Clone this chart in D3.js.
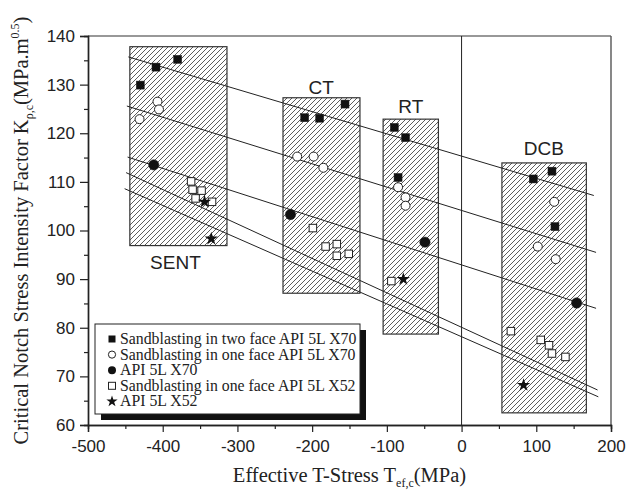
<!DOCTYPE html>
<html>
<head>
<meta charset="utf-8">
<script src="https://d3js.org/d3.v7.min.js"></script>
<style>
  body { margin: 0; background: #fff; }
  svg { display: block; }
  .tick text { font-family: "Liberation Sans", Arial, sans-serif; font-size: 17px; fill: #222; }
</style>
</head>
<body>
<script>
// ---- data ----
var xTicks = [-500, -400, -300, -200, -100, 0, 100, 200];
var yTicks = [60, 70, 80, 90, 100, 110, 120, 130, 140];

// test specimen zones: name, xmin, xmax, ymin, ymax
var boxNames = ["SENT", "CT", "RT", "DCB"];
var boxX0 = [-444, -239, -105, 54];
var boxX1 = [-314, -136, -31, 167];
var boxY0 = [96.9, 87.1, 78.7, 62.5];
var boxY1 = [137.8, 127.3, 122.9, 113.9];
// label anchor (centre x, baseline y) in data units
var boxLabelX = [-383, -188, -68, 110];
var boxLabelY = [92.0, 128.1, 124.1, 115.6];

var sandTwoX70 = [[-430, 129.9], [-409, 133.6], [-380, 135.2],
                  [-210, 123.2], [-190, 123.1], [-156, 126.0],
                  [-90, 121.2], [-75, 119.1], [-85, 110.9],
                  [96, 110.6], [121, 112.2], [125, 100.8]];
var sandOneX70 = [[-431, 122.9], [-407, 126.5], [-405, 124.9],
                  [-220, 115.2], [-198, 115.2], [-185, 112.9],
                  [-85, 108.9], [-75, 106.8], [-75, 105.1],
                  [124, 105.9], [102, 96.7], [126, 94.1]];
var x70 = [[-412, 113.5], [-229, 103.3], [-49, 97.6], [154, 85.1]];
var sandOneX52 = [[-362, 110.1], [-360, 108.4], [-348, 108.2], [-356, 106.6], [-334, 105.9],
                  [-199, 100.5], [-182, 96.7], [-167, 97.2], [-167, 94.8], [-151, 95.2],
                  [-94, 89.6],
                  [66, 79.3], [106, 77.5], [117, 76.4], [121, 74.7], [139, 74.0]];
var x52 = [[-344, 105.9], [-335, 98.3], [-78, 90.0], [83, 68.2]];

// fitted lines: x0, y0, x1, y1
var fitLines = [[-446, 135.7, 177, 107.2],
                [-448, 125.6, 180, 95.5],
                [-447, 115.1, 180, 84.0],
                [-449, 111.9, 182, 67.2],
                [-451, 108.6, 183, 65.8]];

var legendLabels = ["Sandblasting in two face API 5L X70",
                    "Sandblasting in one face API 5L X70",
                    "API 5L X70",
                    "Sandblasting in one face API 5L X52",
                    "API 5L X52"];

// ---- layout ----
var W = 628, H = 494;
var mLeft = 88, mRight = 611, mTop = 36, mBottom = 425;

var svg = d3.select("body").append("svg")
  .attr("width", W).attr("height", H);

var x = d3.scaleLinear().domain([-500, 200]).range([mLeft, mRight]);
var y = d3.scaleLinear().domain([60, 140]).range([mBottom, mTop]);

// hatch pattern
var defs = svg.append("defs");
var pat = defs.append("pattern")
  .attr("id", "hatch")
  .attr("patternUnits", "userSpaceOnUse")
  .attr("width", 5).attr("height", 5);
pat.append("path")
  .attr("d", "M-1,1 l2,-2 M0,5 l5,-5 M4,6 l2,-2")
  .attr("stroke", "#333").attr("stroke-width", 0.8);

// frame (top + right)
svg.append("line").attr("x1", mLeft).attr("x2", mRight).attr("y1", mTop).attr("y2", mTop)
  .attr("stroke", "#333").attr("stroke-width", 1.2);
svg.append("line").attr("x1", mRight).attr("x2", mRight).attr("y1", mTop).attr("y2", mBottom)
  .attr("stroke", "#555").attr("stroke-width", 1.4);

// zero line
svg.append("line")
  .attr("x1", x(0)).attr("x2", x(0)).attr("y1", mTop).attr("y2", mBottom)
  .attr("stroke", "#222").attr("stroke-width", 1);

// boxes
var boxes = boxNames.map(function (n, i) {
  return {name: n, x0: boxX0[i], x1: boxX1[i], y0: boxY0[i], y1: boxY1[i], lx: boxLabelX[i], ly: boxLabelY[i]};
});
svg.append("g").selectAll("rect").data(boxes).enter().append("rect")
  .attr("x", function (d) { return x(d.x0); })
  .attr("y", function (d) { return y(d.y1); })
  .attr("width", function (d) { return x(d.x1) - x(d.x0); })
  .attr("height", function (d) { return y(d.y0) - y(d.y1); })
  .attr("fill", "url(#hatch)")
  .attr("stroke", "#333").attr("stroke-width", 1.2);

svg.append("g").selectAll("text").data(boxes).enter().append("text")
  .attr("x", function (d) { return x(d.lx); })
  .attr("y", function (d) { return y(d.ly); })
  .attr("text-anchor", "middle")
  .style("font-family", "Liberation Sans, Arial, sans-serif")
  .style("font-size", "19px")
  .attr("fill", "#222")
  .text(function (d) { return d.name; });

// fit lines
svg.append("g").selectAll("line").data(fitLines).enter().append("line")
  .attr("x1", function (d) { return x(d[0]); })
  .attr("y1", function (d) { return y(d[1]); })
  .attr("x2", function (d) { return x(d[2]); })
  .attr("y2", function (d) { return y(d[3]); })
  .attr("stroke", "#222").attr("stroke-width", 1);

// markers
function drawSquares(data, size, filled) {
  svg.append("g").selectAll("rect").data(data).enter().append("rect")
    .attr("x", function (d) { return x(d[0]) - size / 2; })
    .attr("y", function (d) { return y(d[1]) - size / 2; })
    .attr("width", size).attr("height", size)
    .attr("fill", filled ? "#111" : "#fff")
    .attr("stroke", "#222").attr("stroke-width", filled ? 0.5 : 1);
}
function drawCircles(data, r, filled) {
  svg.append("g").selectAll("circle").data(data).enter().append("circle")
    .attr("cx", function (d) { return x(d[0]); })
    .attr("cy", function (d) { return y(d[1]); })
    .attr("r", r)
    .attr("fill", filled ? "#111" : "#fff")
    .attr("stroke", "#222").attr("stroke-width", filled ? 0.5 : 1);
}
drawSquares(sandTwoX70, 8, true);
drawCircles(sandOneX70, 4.5, false);
drawCircles(x70, 5.2, true);
drawSquares(sandOneX52, 7.5, false);
var star = d3.symbol().type(d3.symbolStar).size(55);
svg.append("g").selectAll("path").data(x52).enter().append("path")
  .attr("d", star)
  .attr("transform", function (d) { return "translate(" + x(d[0]) + "," + y(d[1]) + ")"; })
  .attr("fill", "#111");

// axes
var fmt = function (d) { return String(d); };
var xAxis = d3.axisBottom(x).tickValues(xTicks).tickSize(7).tickPadding(8).tickFormat(fmt);
var xMinor = d3.axisBottom(x).tickValues(d3.range(-450, 200, 100)).tickSize(4).tickFormat("");
var yAxis = d3.axisLeft(y).tickValues(yTicks).tickSize(8).tickPadding(5).tickFormat(fmt);
var yMinor = d3.axisLeft(y).tickValues(d3.range(65, 140, 10)).tickSize(4).tickFormat("");

[xAxis, xMinor].forEach(function (a) {
  var g = svg.append("g").attr("transform", "translate(0," + mBottom + ")").call(a);
  g.select(".domain").attr("stroke", "#222").attr("stroke-width", 1.4);
  g.selectAll(".tick line").attr("stroke", "#222").attr("stroke-width", 1.2);
});
[yAxis, yMinor].forEach(function (a) {
  var g = svg.append("g").attr("transform", "translate(" + mLeft + ",0)").call(a);
  g.select(".domain").attr("stroke", "#222").attr("stroke-width", 1.4);
  g.selectAll(".tick line").attr("stroke", "#222").attr("stroke-width", 1.2);
});

// axis titles
var serif = "Liberation Serif, Times New Roman, serif";
var xt = svg.append("text")
  .attr("x", (mLeft + mRight) / 2).attr("y", 482)
  .attr("text-anchor", "middle")
  .style("font-family", serif).style("font-size", "20.5px").attr("fill", "#222");
xt.append("tspan").text("Effective T-Stress T");
xt.append("tspan").attr("dy", 5).style("font-size", "12px").text("ef,c");
xt.append("tspan").attr("dy", -5).text("(MPa)");

var yt = svg.append("text")
  .attr("transform", "translate(28," + ((mTop + mBottom) / 2) + ") rotate(-90)")
  .attr("text-anchor", "middle")
  .style("font-family", serif).style("font-size", "20.5px").attr("fill", "#222");
yt.append("tspan").text("Critical Notch Stress Intensity Factor K");
yt.append("tspan").attr("dy", 5).style("font-size", "12px").text("ρ,c");
yt.append("tspan").attr("dy", -5).text("(MPa.m");
yt.append("tspan").attr("dy", -9).style("font-size", "12px").text("0.5");
yt.append("tspan").attr("dy", 9).text(")");

// legend
var lx = 95, ly = 324, lw = 265, lh = 90;
svg.append("rect").attr("x", lx + 6).attr("y", ly + 6).attr("width", lw).attr("height", lh).attr("fill", "#111");
svg.append("rect").attr("x", lx).attr("y", ly).attr("width", lw).attr("height", lh)
  .attr("fill", "#fff").attr("stroke", "#222").attr("stroke-width", 1);

var lg = svg.append("g");
legendLabels.forEach(function (t, i) {
  var cy = ly + 15 + i * 15.6;
  var cx = lx + 17;
  if (i === 0) lg.append("rect").attr("x", cx - 3.5).attr("y", cy - 3.5).attr("width", 7).attr("height", 7).attr("fill", "#111");
  if (i === 1) lg.append("circle").attr("cx", cx).attr("cy", cy).attr("r", 3.6).attr("fill", "#fff").attr("stroke", "#222");
  if (i === 2) lg.append("circle").attr("cx", cx).attr("cy", cy).attr("r", 4).attr("fill", "#111");
  if (i === 3) lg.append("rect").attr("x", cx - 3.5).attr("y", cy - 3.5).attr("width", 7).attr("height", 7).attr("fill", "#fff").attr("stroke", "#222");
  if (i === 4) lg.append("path").attr("d", d3.symbol().type(d3.symbolStar).size(40)).attr("transform", "translate(" + cx + "," + cy + ")").attr("fill", "#111");
  lg.append("text").attr("x", lx + 25).attr("y", cy + 5)
    .style("font-family", serif).style("font-size", "15.8px").attr("fill", "#222")
    .text(t);
});
</script>
</body>
</html>
